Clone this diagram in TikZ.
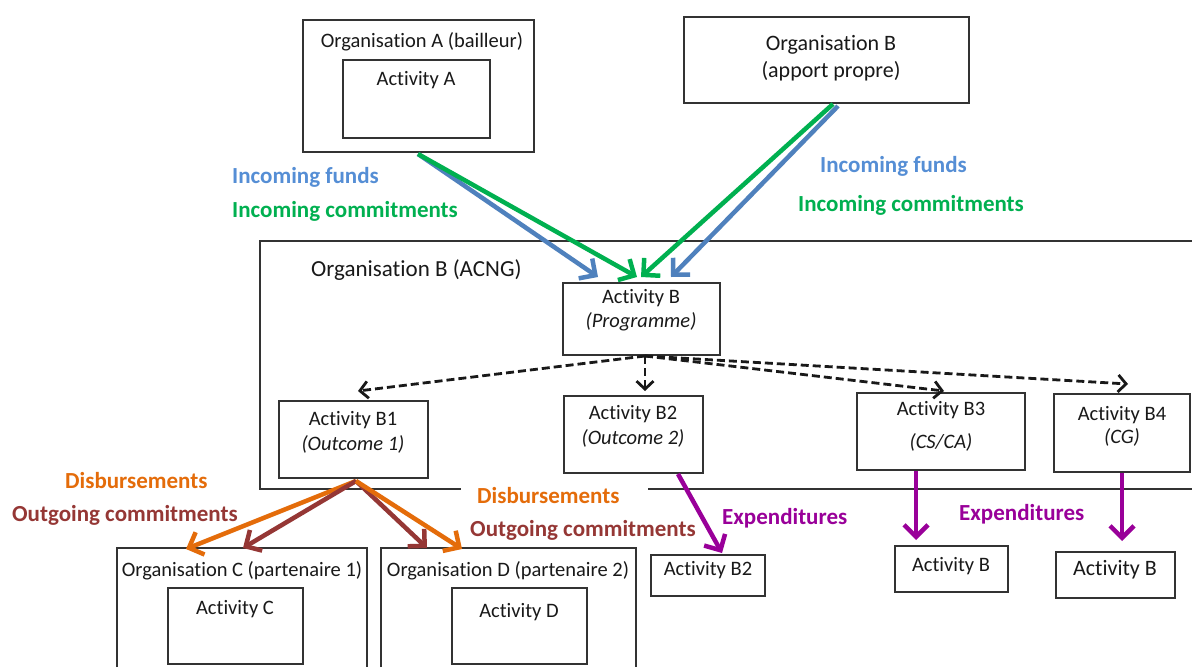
\documentclass[tikz,border=0pt]{standalone}
\usepackage{fontspec}
\setmainfont[Ligatures=NoCommon]{Carlito}
\usetikzlibrary{arrows.meta,fit}
\definecolor{fundblue}{HTML}{4F81BD}
\definecolor{fundbluetxt}{HTML}{558ED5}
\definecolor{commitgreen}{HTML}{00B050}
\definecolor{disborange}{HTML}{E46C0A}
\definecolor{outred}{HTML}{953735}
\definecolor{exppurple}{HTML}{990099}
\begin{document}
\begin{tikzpicture}[x=1pt,y=-1pt,
  box/.style={draw=black!80, line width=1.4pt, inner sep=0pt},
  boxline/.style={draw=black!80, line width=1.4pt},
  txt/.style={font=\fontsize{20.5}{26}\selectfont, inner sep=0pt, text=black!90, align=center},
  itxt/.style={txt, font=\fontsize{20.5}{26}\selectfont\itshape},
  lbl/.style={font=\fontsize{23}{28}\selectfont\bfseries, inner sep=0pt, anchor=west},
  flow/.style={line width=4.5pt, -{Straight Barb[length=12pt,width=24pt]}},
  split/.style={line width=2.8pt, black!90, dash pattern=on 8pt off 4pt, -{Straight Barb[length=8pt,width=17pt]}},
]
\useasboundingbox[fill=white] (0,0) rectangle (1192,667);

% ---------- funding organisations ----------
\node[box, fit={(303,20) (534,152)}] (orgA) {};
\node[txt] (orgAt) at (422,42) {Organisation A (bailleur)};
\node[box, fit={(343,60) (490,138)}] (actA) {};
\node[txt] (actAt) at (416,80) {Activity A};

\node[box, fit={(684,17) (969,103)}] (orgB) {};
\node[txt, font=\fontsize{22}{27}\selectfont] (orgBt) at (831,58) {Organisation B\\(apport propre)};

% ---------- implementing organisation (open on the right) ----------
\draw[boxline] (1192,241) -- (260,241) -- (260,489) -- (461,489);
\draw[boxline] (648,489) -- (1192,489);
\node[txt, anchor=west, font=\fontsize{23}{27}\selectfont] (acng) at (311,270) {Organisation B (ACNG)};

\node[box, fit={(563,283) (720,355)}] (actB) {};
\node[txt] (actBt) at (641,298) {Activity B};
\node[itxt] (actBi) at (641,322) {(Programme)};

\node[box, fit={(279,401) (428,478)}] (b1) {};
\node[txt] (b1t) at (353,420) {Activity B1};
\node[itxt] (b1i) at (353,444) {(Outcome 1)};

\node[box, fit={(564,396) (703,473)}] (b2) {};
\node[txt] (b2t) at (633,414) {Activity B2};
\node[itxt] (b2i) at (633,438) {(Outcome 2)};

\node[box, fit={(857,393) (1025,470)}] (b3) {};
\node[txt] (b3t) at (941,410) {Activity B3};
\node[itxt] (b3i) at (941,442) {(CS/CA)};

\node[box, fit={(1054,394) (1190,472)}] (b4) {};
\node[txt] (b4t) at (1122,415) {Activity B4};
\node[itxt] (b4i) at (1122,437) {(CG)};

% ---------- partners (cut by the lower edge) ----------
\draw[boxline] (117,667) -- (117,548) -- (367,548) -- (367,667);
\node[txt] (orgCt) at (242,571) {Organisation C (partenaire 1)};
\node[box, fit={(168,588) (303,664)}] (actC) {};
\node[txt] (actCt) at (235,609) {Activity C};

\draw[boxline] (381,667) -- (381,548) -- (636,548) -- (636,667);
\node[txt] (orgDt) at (508,571) {Organisation D (partenaire 2)};
\node[box, fit={(452,588) (587,664)}] (actD) {};
\node[txt] (actDt) at (519,612) {Activity D};

% ---------- expenditure targets ----------
\node[box, fit={(651,555) (765,596)}] (eB2) {};
\node[txt] (eB2t) at (708,570) {Activity B2};
\node[box, fit={(895,546) (1008,592)}] (eB3) {};
\node[txt] (eB3t) at (951,566) {Activity B};
\node[box, fit={(1056,552) (1175,598)}] (eB4) {};
\node[txt, font=\fontsize{22}{26}\selectfont] (eB4t) at (1115,570) {Activity B};

% ---------- connector end points ----------
\coordinate (aOut) at (418,154);
\coordinate (bOutG) at (833,104);
\coordinate (bOutB) at (838,106);
\coordinate (inFA) at (598,277);
\coordinate (inCA) at (637,277);
\coordinate (inCB) at (641,277);
\coordinate (inFB) at (671,277);
\coordinate (spl) at (645,356);
\coordinate (toB1) at (358,391);
\coordinate (toB2) at (645,391);
\coordinate (toB3) at (944,391);
\coordinate (toB4) at (1128,384);
\coordinate (b1Out) at (356,481);
\coordinate (cOr) at (186,549);
\coordinate (cRd) at (243,548);
\coordinate (dRd) at (427,548);
\coordinate (dOr) at (462,549);
\coordinate (b2Out) at (678,474);
\coordinate (e2In) at (722,553);
\coordinate (b3Out) at (916,471);
\coordinate (e3In) at (916,540);
\coordinate (b4Out) at (1122,473);
\coordinate (e4In) at (1122,541);

% ---------- incoming flows ----------
\draw[flow, fundblue] (aOut) -- (inFA);
\draw[flow, commitgreen] (aOut) -- (inCA);
\draw[flow, commitgreen] (bOutG) -- (inCB);
\draw[flow, fundblue] (bOutB) -- (inFB);

\node[lbl, fundbluetxt] (lfA) at (232,177) {Incoming funds};
\node[lbl, commitgreen] (lcA) at (232,211) {Incoming commitments};
\node[lbl, fundbluetxt] (lfB) at (820,166) {Incoming funds};
\node[lbl, commitgreen] (lcB) at (798,205) {Incoming commitments};

% ---------- programme breakdown ----------
\draw[split] (spl) -- (toB1);
\draw[split] (spl) -- (toB2);
\draw[split] (spl) -- (toB3);
\draw[split] (spl) -- (toB4);

% ---------- outgoing flows ----------
\draw[flow, disborange] (b1Out) -- (cOr);
\draw[flow, outred] (b1Out) -- (cRd);
\draw[flow, outred] (b1Out) -- (dRd);
\draw[flow, disborange] (b1Out) -- (dOr);

\node[lbl, disborange] (ldL) at (65,481) {Disbursements};
\node[lbl, outred] (loL) at (12,515) {Outgoing commitments};
\node[lbl, disborange] (ldR) at (477,496) {Disbursements};
\node[lbl, outred] (loR) at (470,530) {Outgoing commitments};

% ---------- expenditures ----------
\draw[flow, exppurple] (b2Out) -- (e2In);
\draw[flow, exppurple] (b3Out) -- (e3In);
\draw[flow, exppurple] (b4Out) -- (e4In);

\node[lbl, exppurple] (le1) at (722,518) {Expenditures};
\node[lbl, exppurple] (le2) at (959,514) {Expenditures};
\end{tikzpicture}
\end{document}
